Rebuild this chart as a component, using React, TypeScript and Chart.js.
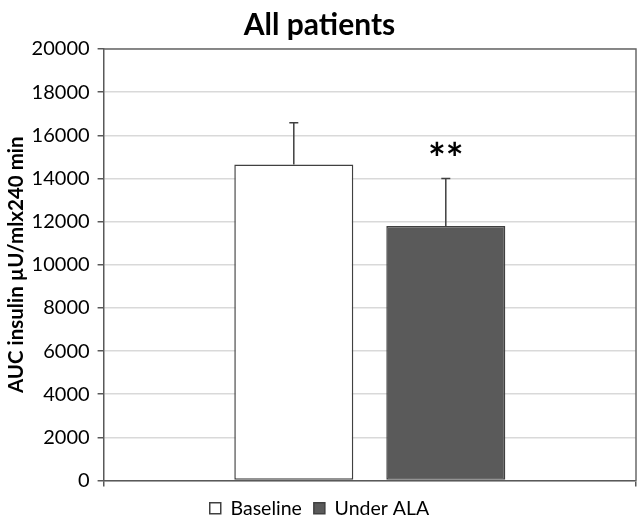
import React, { useEffect, useRef } from "react";
import { Chart, registerables } from "chart.js";

Chart.register(...registerables);

// ---- data ----
const categories = [""];
const seriesNames = ["Baseline", "Under ALA"];
const baselineValues = [14650];
const underAlaValues = [11800];
const baselineErrors = [1930];
const underAlaErrors = [2200];
const significanceMarks = ["", "**"];
const yMin = 0;
const yMax = 20000;
const yStep = 2000;

const titleText = "All patients";
const yAxisTitle = "AUC insulin µU/mlx240 min";

const FONT = "Lato, 'Open Sans', sans-serif";
const errorsByDataset = [baselineErrors, underAlaErrors];

const errorBarPlugin = {
  id: "errorBars",
  afterDatasetsDraw(chart: any) {
    const ctx = chart.ctx;
    const yScale = chart.scales.y;
    chart.data.datasets.forEach((ds: any, i: number) => {
      const meta = chart.getDatasetMeta(i);
      const errs = errorsByDataset[i];
      meta.data.forEach((el: any, j: number) => {
        const v = ds.data[j];
        const top = yScale.getPixelForValue(v + errs[j]);
        ctx.save();
        ctx.strokeStyle = "#404040";
        ctx.lineWidth = 1.5;
        ctx.beginPath();
        ctx.moveTo(el.x, el.y);
        ctx.lineTo(el.x, top);
        ctx.moveTo(el.x - 4.5, top);
        ctx.lineTo(el.x + 4.5, top);
        ctx.stroke();
        const mark = significanceMarks[i];
        if (mark) {
          ctx.fillStyle = "#000";
          ctx.font = `bold 42px ${FONT}`;
          ctx.textAlign = "center";
          ctx.textBaseline = "middle";
          ctx.fillText(mark, el.x, top - 18);
        }
        ctx.restore();
      });
    });
  },
};

const framePlugin = {
  id: "frame",
  beforeDatasetsDraw(chart: any) {
    const { ctx, chartArea } = chart;
    ctx.save();
    ctx.strokeStyle = "#6a6a6a";
    ctx.lineWidth = 1.5;
    ctx.beginPath();
    ctx.moveTo(chartArea.left, chartArea.top);
    ctx.lineTo(chartArea.right, chartArea.top);
    ctx.lineTo(chartArea.right, chartArea.bottom);
    ctx.stroke();
    ctx.restore();
  },
};

export default function App() {
  const ref = useRef<HTMLCanvasElement | null>(null);
  useEffect(() => {
    if (!ref.current) return;
    const chart = new Chart(ref.current, {
      type: "bar",
      data: {
        labels: categories,
        datasets: [
          {
            label: seriesNames[0],
            data: baselineValues,
            backgroundColor: "#ffffff",
            borderColor: "#404040",
            borderWidth: 1.5,
            borderSkipped: false,
            barPercentage: 0.783,
            categoryPercentage: 0.571,
          },
          {
            label: seriesNames[1],
            data: underAlaValues,
            backgroundColor: "#5a5a5a",
            borderColor: "#404040",
            borderWidth: 1.5,
            borderSkipped: false,
            barPercentage: 0.783,
            categoryPercentage: 0.571,
          },
        ],
      },
      options: {
        responsive: false,
        animation: false,
        layout: { padding: { left: 3, right: 4, top: 0, bottom: -11 } },
        plugins: {
          title: {
            display: true,
            text: titleText,
            color: "#000",
            font: { family: FONT, size: 30, weight: "bold" },
            padding: { top: 7, bottom: 6 },
          },
          legend: {
            position: "bottom",
            labels: {
              color: "#000",
              font: { family: FONT, size: 19.5 },
              boxWidth: 11,
              boxHeight: 11,
              padding: 12,
            },
          },
          tooltip: { enabled: false },
        },
        scales: {
          x: {
            offset: true,
            grid: {
              display: true,
              drawOnChartArea: false,
              drawTicks: true,
              tickLength: 6,
              offset: true,
              color: "#595959",
              lineWidth: 1.5,
            },
            border: { display: true, color: "#595959", width: 1.5 },
            ticks: { display: false },
          },
          y: {
            min: yMin,
            max: yMax,
            ticks: {
              stepSize: yStep,
              color: "#000",
              font: { family: FONT, size: 20 },
              padding: 8,
              callback: (v: any) => String(v),
            },
            grid: {
              color: "#d9d9d9",
              lineWidth: 1.5,
              tickColor: "#595959",
              tickLength: 6,
            },
            border: { display: true, color: "#595959", width: 1.5 },
            title: {
              display: true,
              text: yAxisTitle,
              color: "#000",
              font: { family: FONT, size: 20.5, weight: "bold" },
              padding: { top: 1, bottom: -5 },
            },
          },
        },
      },
      plugins: [framePlugin, errorBarPlugin],
    } as any);
    return () => chart.destroy();
  }, []);
  return (
    <div style={{ position: "absolute", left: 0, top: 0, width: 640, height: 517, background: "#fff" }}>
      <canvas ref={ref} width={640} height={517} />
    </div>
  );
}
